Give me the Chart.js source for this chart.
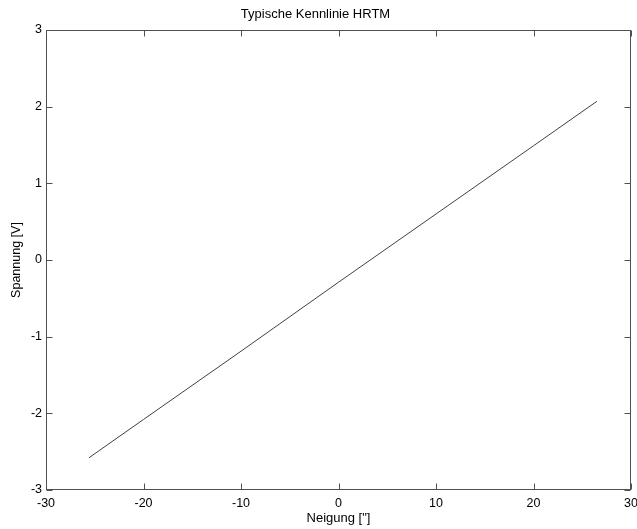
<!DOCTYPE html>
<html>
<head>
<meta charset="utf-8">
<script src="https://cdn.jsdelivr.net/npm/chart.js@4/dist/chart.umd.min.js"></script>
<style>
  html, body { margin: 0; padding: 0; background: #fff; }
  #wrap { width: 637px; height: 529px; position: relative; }
</style>
</head>
<body>
<div id="wrap"><canvas id="c"></canvas></div>
<script>
// Data
const neigung  = [-25.6, -20, -10, 0, 10, 20, 26.5];          // x values [°]
const spannung = [-2.58, -2.08, -1.19, -0.29, 0.60, 1.49, 2.07]; // y values [V]
const xTicks = [-30, -20, -10, 0, 10, 20, 30];
const yTicks = [-3, -2, -1, 0, 1, 2, 3];
const titleText = 'Typische Kennlinie HRTM';
const xLabel = 'Neigung ["]';
const yLabel = 'Spannung [V]';

const FONT = '"Liberation Sans", Arial, Helvetica, sans-serif';
const AXIS_COLOR = '#505050';
const TICK_LEN = 6;

const boxPlugin = {
  id: 'matlabBox',
  afterDatasetsDraw(chart) {
    const {ctx, chartArea: a, scales} = chart;
    ctx.save();
    ctx.strokeStyle = AXIS_COLOR;
    ctx.lineWidth = 1;
    const L = Math.round(a.left) + 0.5, R = Math.round(a.right) - 0.5;
    const T = Math.round(a.top) + 0.5, B = Math.round(a.bottom) - 0.5;
    ctx.strokeRect(L, T, R - L, B - T);
    ctx.beginPath();
    xTicks.forEach(v => {
      const px = Math.round(scales.x.getPixelForValue(v)) + 0.5;
      ctx.moveTo(px, B); ctx.lineTo(px, B - TICK_LEN);
      ctx.moveTo(px, T); ctx.lineTo(px, T + TICK_LEN);
    });
    yTicks.forEach(v => {
      const py = Math.round(scales.y.getPixelForValue(v)) + 0.5;
      ctx.moveTo(L, py); ctx.lineTo(L + TICK_LEN, py);
      ctx.moveTo(R, py); ctx.lineTo(R - TICK_LEN, py);
    });
    ctx.stroke();
    ctx.restore();
  }
};

new Chart(document.getElementById('c'), {
  type: 'line',
  data: {
    datasets: [{
      data: neigung.map((x, i) => ({x, y: spannung[i]})),
      borderColor: '#404040',
      borderWidth: 1,
      pointRadius: 0,
      tension: 0,
      fill: false
    }]
  },
  options: {
    responsive: true,
    maintainAspectRatio: false,
    animation: false,
    layout: { padding: { left: 0, right: 6, top: 0, bottom: 0 } },
    plugins: {
      legend: { display: false },
      tooltip: { enabled: false },
      title: {
        display: true,
        text: titleText,
        color: '#000',
        font: { family: FONT, size: 13, weight: 'normal' },
        padding: { top: 7, bottom: 7.4 }
      }
    },
    scales: {
      x: {
        type: 'linear',
        min: -30, max: 30,
        afterBuildTicks(s) { s.ticks = xTicks.map(v => ({value: v})); },
        grid: { display: false, drawTicks: false },
        border: { display: false },
        ticks: { color: '#000', font: { family: FONT, size: 12.5 }, padding: 6, maxRotation: 0, autoSkip: false },
        title: { display: true, text: xLabel, color: '#000', font: { family: FONT, size: 13 }, padding: { top: 0, bottom: 2.5 } },
        afterFit(s) { s.height = 39; s.paddingLeft = 0; s.paddingRight = 0; }
      },
      y: {
        type: 'linear',
        min: -3, max: 3,
        afterBuildTicks(s) { s.ticks = yTicks.map(v => ({value: v})); },
        grid: { display: false, drawTicks: false },
        border: { display: false },
        ticks: { color: '#000', font: { family: FONT, size: 12.5 }, padding: 4, autoSkip: false },
        title: { display: true, text: yLabel, color: '#000', font: { family: FONT, size: 12.5 }, padding: { top: 9.5, bottom: 0 } },
        afterFit(s) { s.width = 46; s.paddingTop = 0; s.paddingBottom = 0; }
      }
    }
  },
  plugins: [boxPlugin]
});
</script>
</body>
</html>
